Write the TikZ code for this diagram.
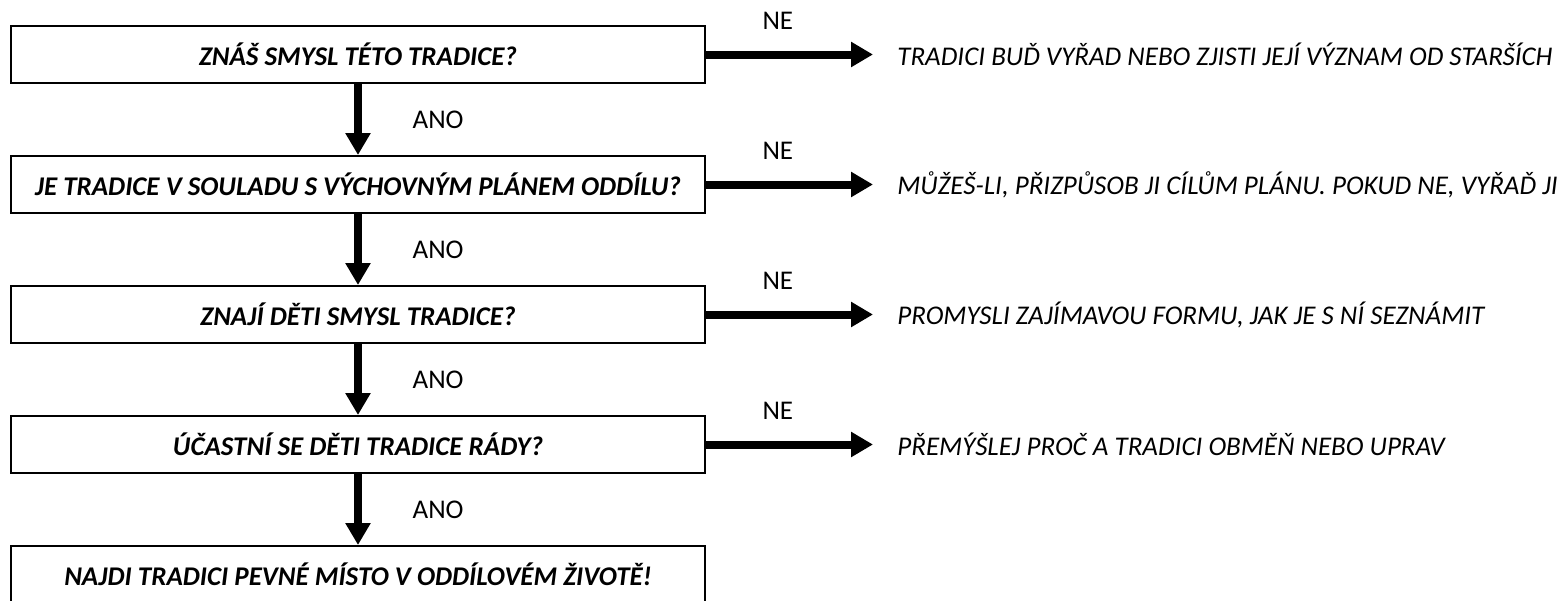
\documentclass[tikz,border=0pt]{standalone}
\usepackage{fontspec}
\setmainfont{Carlito}
\usetikzlibrary{arrows.meta, positioning, calc}

\begin{document}
\begin{tikzpicture}[x=0.5pt, y=-0.5pt, font=\fontsize{13.5}{16}\selectfont,
		box/.style={draw, line width=1pt, minimum width=347pt, minimum height=28.5pt, inner sep=0pt, font=\fontsize{13.5}{16}\selectfont\bfseries\itshape},
		ans/.style={anchor=west, inner xsep=12pt, inner ysep=0pt, font=\fontsize{13.5}{16}\selectfont\itshape},
		flow/.style={line width=4pt, -{Triangle[length=11pt, width=12pt]}}]
		\useasboundingbox (0, 0) rectangle (1558, 600);
	
		% otazky
		\node[box] (q1) at (358, 54.5) {ZNÁŠ SMYSL TÉTO TRADICE?};
		\node[box] (q2) at (358, 184.5) {JE TRADICE V SOULADU S VÝCHOVNÝM PLÁNEM ODDÍLU?};
		\node[box] (q3) at (358, 314.5) {ZNAJÍ DĚTI SMYSL TRADICE?};
		\node[box] (q4) at (358, 444.5) {ÚČASTNÍ SE DĚTI TRADICE RÁDY?};
		\node[box] (q5) at (358, 574.5) {NAJDI TRADICI PEVNÉ MÍSTO V ODDÍLOVÉM ŽIVOTĚ!};
		
		% odpovedi
		\node[ans] (a1) at (873, 54.5) {TRADICI BUĎ VYŘAD NEBO ZJISTI JEJÍ VÝZNAM OD STARŠÍCH};
		\node[ans] (a2) at (873, 184.5) {MŮŽEŠ-LI, PŘIZPŮSOB JI CÍLŮM PLÁNU. POKUD NE, VYŘAĎ JI};
		\node[ans] (a3) at (873, 314.5) {PROMYSLI ZAJÍMAVOU FORMU, JAK JE S NÍ SEZNÁMIT};
		\node[ans] (a4) at (873, 444.5) {PŘEMÝŠLEJ PROČ A TRADICI OBMĚŇ NEBO UPRAV};
		
		\draw[flow] (q1) -- node[right=22pt] {ANO} (q2);
		\draw[flow] (q2) -- node[right=22pt] {ANO} (q3);
		\draw[flow] (q3) -- node[right=22pt] {ANO} (q4);
		\draw[flow] (q4) -- node[right=22pt] {ANO} (q5);
		
		\draw[flow] (q1) -- node[above=7pt, pos=.43] {NE} (a1);
		\draw[flow] (q2) -- node[above=7pt, pos=.43] {NE} (a2);
		\draw[flow] (q3) -- node[above=7pt, pos=.43] {NE} (a3);
		\draw[flow] (q4) -- node[above=7pt, pos=.43] {NE} (a4);
	
	\end{tikzpicture}
\end{document}
